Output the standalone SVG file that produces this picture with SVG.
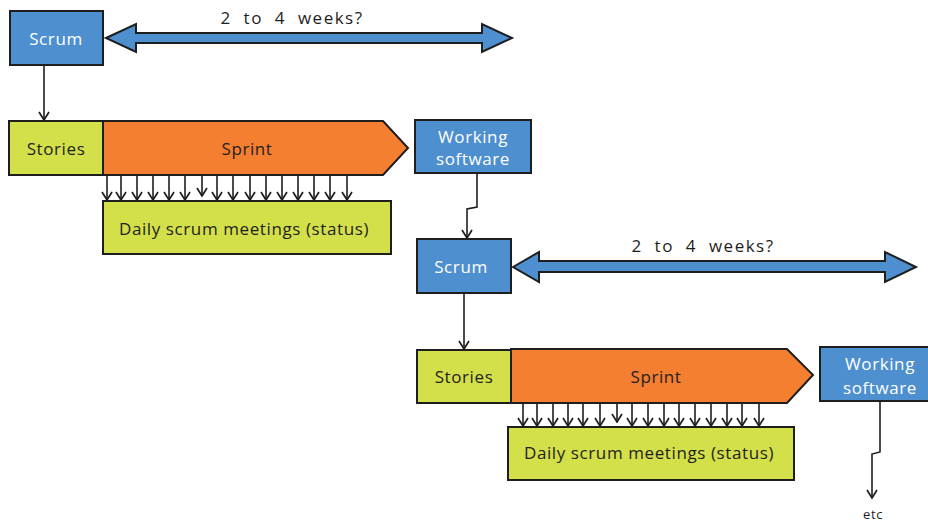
<svg xmlns="http://www.w3.org/2000/svg" width="928" height="524" viewBox="0 0 928 524">
<style>
.box{stroke:#1e1e1e;stroke-width:2}
.blue{fill:#4d8fcf}
.green{fill:#d4e04a}
.orange{fill:#f47f31}
.t{font-family:"Open Sans","Liberation Sans",sans-serif;font-size:17px;text-anchor:middle;dominant-baseline:central;letter-spacing:0.6px}
.wide{word-spacing:6px;letter-spacing:1.5px}
.w{fill:#ffffff}
.k{fill:#1e1e1e}
.ln{fill:none;stroke:#1e1e1e;stroke-width:1.6}
.dbl{fill:#4d8fcf;stroke:#1e1e1e;stroke-width:2;stroke-linejoin:miter}
</style>
<defs>
<marker id="ah" viewBox="0 0 12 12" refX="11" refY="6" markerWidth="12" markerHeight="12" markerUnits="userSpaceOnUse" orient="auto">
<path d="M3 1 L11 6 L3 11" fill="none" stroke="#1e1e1e" stroke-width="1.7"/>
</marker>
</defs>

<g id="scrum1"><rect class="box blue" x="10" y="11" width="93" height="54"/><text class="t w" x="56" y="38">Scrum</text></g>
<g id="span1"><path class="dbl" d="M106 38 L136 24 L136 33 L482 33 L482 24 L512 38 L482 52 L482 43 L136 43 L136 52 Z"/><text class="t k wide" x="292" y="17">2 to 4 weeks?</text></g>
<g id="stories1"><rect class="box green" x="9" y="121" width="94" height="54"/><text class="t k" x="56" y="148">Stories</text></g>
<g id="sprint1"><path class="box orange" d="M103 121 L383 121 L408 148 L383 175 L103 175 Z"/><text class="t k" x="247" y="148">Sprint</text></g>
<g id="daily1"><rect class="box green" x="103" y="201" width="288" height="53"/><text class="t k" x="244" y="228">Daily scrum meetings (status)</text></g>
<g id="ws1"><rect class="box blue" x="415" y="120" width="116" height="53"/><text class="t w" x="473" y="136">Working</text><text class="t w" x="473" y="158">software</text></g>

<g id="scrum2"><rect class="box blue" x="417" y="239" width="94" height="54"/><text class="t w" x="461" y="266">Scrum</text></g>
<g id="span2"><path class="dbl" d="M513 267 L539 252 L539 261 L885 261 L885 252 L916 267 L885 282 L885 272 L539 272 L539 282 Z"/><text class="t k wide" x="703" y="245">2 to 4 weeks?</text></g>
<g id="stories2"><rect class="box green" x="417" y="350" width="94" height="53"/><text class="t k" x="464" y="376">Stories</text></g>
<g id="sprint2"><path class="box orange" d="M511 349 L787 349 L813 375 L787 403 L511 403 Z"/><text class="t k" x="656" y="376">Sprint</text></g>
<g id="daily2"><rect class="box green" x="508" y="427" width="286" height="53"/><text class="t k" x="649" y="452">Daily scrum meetings (status)</text></g>
<g id="ws2"><rect class="box blue" x="820" y="347" width="112" height="54"/><text class="t w" x="880" y="363">Working</text><text class="t w" x="880" y="387">software</text></g>
<g id="etc"><text class="t k" x="873" y="514" style="font-size:13px">etc</text></g>

<g id="connectors">
<path class="ln" d="M44 65 L44 120" marker-end="url(#ah)"/>
<path class="ln" d="M477 173 L477 207 L467 209 L467 238" marker-end="url(#ah)" stroke-width="2"/>
<path class="ln" d="M464 293 L464 349" marker-end="url(#ah)"/>
<path class="ln" d="M880 401 L880 452 L872 454 L872 498" marker-end="url(#ah)" stroke-width="2"/>
<g>
<path class="ln" d="M107 176 V200" marker-end="url(#ah)"/>
<path class="ln" d="M121 176 V200" marker-end="url(#ah)"/>
<path class="ln" d="M137 176 V200" marker-end="url(#ah)"/>
<path class="ln" d="M153 176 V200" marker-end="url(#ah)"/>
<path class="ln" d="M169 176 V200" marker-end="url(#ah)"/>
<path class="ln" d="M185 176 V200" marker-end="url(#ah)"/>
<path class="ln" d="M202 176 V196" marker-end="url(#ah)"/>
<path class="ln" d="M217 176 V200" marker-end="url(#ah)"/>
<path class="ln" d="M233 176 V200" marker-end="url(#ah)"/>
<path class="ln" d="M250 176 V200" marker-end="url(#ah)"/>
<path class="ln" d="M266 176 V200" marker-end="url(#ah)"/>
<path class="ln" d="M282 176 V200" marker-end="url(#ah)"/>
<path class="ln" d="M298 176 V200" marker-end="url(#ah)"/>
<path class="ln" d="M314 176 V200" marker-end="url(#ah)"/>
<path class="ln" d="M330 176 V200" marker-end="url(#ah)"/>
<path class="ln" d="M347 176 V200" marker-end="url(#ah)"/>
</g>
<g>
<path class="ln" d="M523 404 V426" marker-end="url(#ah)"/>
<path class="ln" d="M537 404 V426" marker-end="url(#ah)"/>
<path class="ln" d="M553 404 V426" marker-end="url(#ah)"/>
<path class="ln" d="M568 404 V426" marker-end="url(#ah)"/>
<path class="ln" d="M583 404 V426" marker-end="url(#ah)"/>
<path class="ln" d="M600 404 V426" marker-end="url(#ah)"/>
<path class="ln" d="M617 404 V422" marker-end="url(#ah)"/>
<path class="ln" d="M632 404 V426" marker-end="url(#ah)"/>
<path class="ln" d="M648 404 V426" marker-end="url(#ah)"/>
<path class="ln" d="M664 404 V426" marker-end="url(#ah)"/>
<path class="ln" d="M679 404 V426" marker-end="url(#ah)"/>
<path class="ln" d="M695 404 V426" marker-end="url(#ah)"/>
<path class="ln" d="M711 404 V426" marker-end="url(#ah)"/>
<path class="ln" d="M727 404 V426" marker-end="url(#ah)"/>
<path class="ln" d="M742 404 V426" marker-end="url(#ah)"/>
<path class="ln" d="M759 404 V426" marker-end="url(#ah)"/>
</g>
</g>
</svg>
